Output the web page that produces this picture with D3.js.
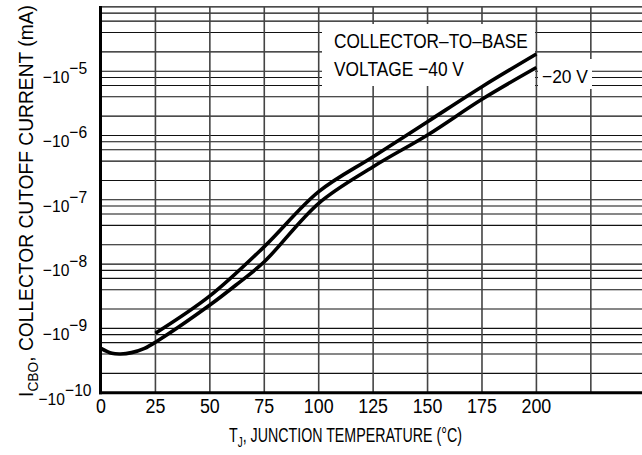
<!DOCTYPE html>
<html>
<head>
<meta charset="utf-8">
<script src="https://cdn.jsdelivr.net/npm/d3@7"></script>
<style>
  body { margin: 0; background: #fff; }
  svg { display: block; font-family: "Liberation Sans", Arial, sans-serif; }
</style>
</head>
<body>
<svg id="chart" width="642" height="455"></svg>
<script>
// tick labels / grid
const xTicks = [0, 25, 50, 75, 100, 125, 150, 175, 200];
const xGrid = [25, 50, 75, 100, 125, 150, 175, 200, 225];
const decades = [-10, -9, -8, -7, -6, -5];
const gridSteps = [1, 2, 4, 6, 8];

// collector-to-base voltage -40 V
const temp40 = [25, 50, 75, 100, 125, 150, 175, 200];
const icbo40 = [8.4e-10, 3.2e-9, 1.87e-8, 1.34e-7, 4.68e-7, 1.64e-6, 5.74e-6, 1.85e-5];

// -20 V
const temp20 = [0, 5, 9, 14, 20, 25, 50, 62, 75, 100, 125, 150, 175, 200];
const icbo20 = [4.9e-10, 4.1e-10, 4.0e-10, 4.2e-10, 4.9e-10, 6.1e-10, 2.31e-9, 4.73e-9, 1.09e-8, 8.83e-8, 3.27e-7, 1.02e-6, 3.66e-6, 1.14e-5];

const W = 642, H = 455;
const svg = d3.select("#chart");

const x = d3.scaleLinear().domain([0, 248.5]).range([101, W]);
const y = d3.scaleLog().domain([1e-10, 1e-4]).range([392.7, 6.9]);

const hLines = decades.flatMap(k => gridSteps.map(m => m * Math.pow(10, k))).concat([1e-4]);

// squeeze text horizontally to look like the narrow font of the original
function squeeze(sel, k) {
  sel.each(function() {
    const t = d3.select(this);
    const ax = +t.attr("x") || 0;
    t.attr("transform", `translate(${ax},0) scale(${k},1) translate(${-ax},0)`);
  });
}
// squeeze to a given width
function fit(sel, w) {
  const n = sel.node().getComputedTextLength();
  squeeze(sel, w / n);
}

// grid
svg.append("g")
  .selectAll("line")
  .data(hLines)
  .join("line")
  .attr("x1", x(0)).attr("x2", W)
  .attr("y1", d => y(d)).attr("y2", d => y(d))
  .attr("stroke", "#111")
  .attr("stroke-width", 1.1);

svg.append("g")
  .selectAll("line")
  .data(xGrid)
  .join("line")
  .attr("x1", d => x(d)).attr("x2", d => x(d))
  .attr("y1", y(1e-4)).attr("y2", y(1e-10))
  .attr("stroke", "#444")
  .attr("stroke-width", 1.6);

// label boxes knock out the grid
svg.append("rect").attr("x", 322).attr("y", 24).attr("width", 213).attr("height", 62).attr("fill", "#fff");
svg.append("rect").attr("x", 538).attr("y", 59).attr("width", 54).attr("height", 30).attr("fill", "#fff");

const box1 = svg.append("text").attr("x", 334).attr("y", 48.3)
  .style("font-size", "21px").text("COLLECTOR\u2013TO\u2013BASE");
const box2 = svg.append("text").attr("x", 334).attr("y", 76)
  .style("font-size", "21px").text("VOLTAGE \u221240 V");
const box3 = svg.append("text").attr("x", 542).attr("y", 83.3)
  .style("font-size", "19px").text("\u221220 V");
fit(box1, 194);
fit(box2, 130);
fit(box3, 46);

// curves
const line = d3.line()
  .x(d => x(d[0]))
  .y(d => y(d[1]))
  .curve(d3.curveCatmullRom.alpha(0.5));

svg.append("path")
  .datum(d3.zip(temp40, icbo40))
  .attr("d", line)
  .attr("fill", "none")
  .attr("stroke", "#000")
  .attr("stroke-width", 3.6);

svg.append("path")
  .datum(d3.zip(temp20, icbo20))
  .attr("d", line)
  .attr("fill", "none")
  .attr("stroke", "#000")
  .attr("stroke-width", 3.6);

// axes frame
svg.append("line")
  .attr("x1", x(0) - 0.5).attr("x2", x(0) - 0.5)
  .attr("y1", y(1e-4) - 1).attr("y2", y(1e-10) + 1.5)
  .attr("stroke", "#000").attr("stroke-width", 3);
svg.append("line")
  .attr("x1", x(0) - 2).attr("x2", W)
  .attr("y1", y(1e-10)).attr("y2", y(1e-10))
  .attr("stroke", "#000").attr("stroke-width", 3);

// x tick labels
svg.append("g")
  .selectAll("text")
  .data(xTicks)
  .join("text")
  .attr("x", d => x(d))
  .attr("y", 413.5)
  .attr("text-anchor", "middle")
  .style("font-size", "21px")
  .text(d => d)
  .call(squeeze, 0.85);

// y tick labels
const yl = svg.append("g")
  .selectAll("text")
  .data(decades)
  .join("text")
  .attr("x", 65)
  .attr("y", d => y(Math.pow(10, d)) + 12)
  .attr("text-anchor", "middle")
  .style("font-size", "17px");
yl.append("tspan").text("\u221210");
yl.append("tspan").attr("dy", -9).text(d => "\u2212" + (-d));
yl.call(squeeze, 0.92);

// x title
const xt = svg.append("text")
  .attr("x", 345.5).attr("y", 442)
  .attr("text-anchor", "middle")
  .style("font-size", "20px");
xt.append("tspan").text("T");
xt.append("tspan").attr("dy", 5).style("font-size", "14px").text("J");
xt.append("tspan").attr("dy", -5).text(", JUNCTION TEMPERATURE (\u00B0C)");
fit(xt, 233);

// y title
const yt = svg.append("g")
  .attr("transform", "translate(33,201) rotate(-90)")
  .append("text")
  .attr("x", 0).attr("y", 0)
  .attr("text-anchor", "middle")
  .style("font-size", "21px");
yt.append("tspan").text("I");
yt.append("tspan").attr("dy", 5).style("font-size", "15px").text("CBO");
yt.append("tspan").attr("dy", -5).text(", COLLECTOR CUTOFF CURRENT (mA)");
fit(yt, 392);
</script>
</body>
</html>
